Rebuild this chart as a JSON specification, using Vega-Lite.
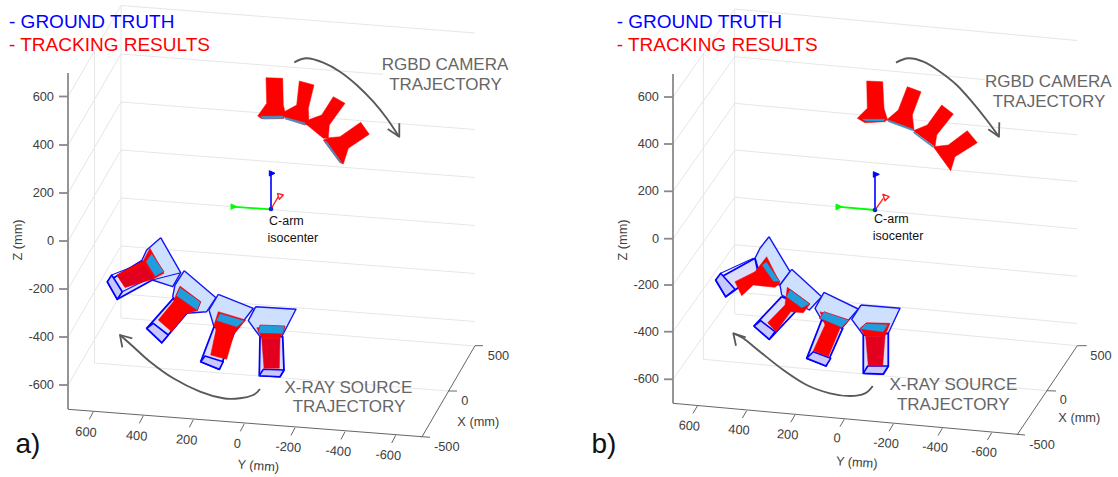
{"$schema":"https://vega.github.io/schema/vega-lite/v6.json","width":1118,"height":477,"padding":0,"autosize":{"type":"fit","contains":"padding"},"background":"white","config":{"view":{"stroke":null}},
"datasets":{"shapes":[
{"id":"g1","part":"grid","i":0,"h":121,"v":5.5},{"id":"g1","part":"grid","i":1,"h":475,"v":33},
{"id":"g2","part":"grid","i":0,"h":121,"v":54},{"id":"g2","part":"grid","i":1,"h":383,"v":74.3},
{"id":"g3","part":"grid","i":0,"h":121,"v":102},{"id":"g3","part":"grid","i":1,"h":475,"v":129.5},
{"id":"g4","part":"grid","i":0,"h":121,"v":150},{"id":"g4","part":"grid","i":1,"h":475,"v":177.5},
{"id":"g5","part":"grid","i":0,"h":121,"v":198},{"id":"g5","part":"grid","i":1,"h":475,"v":225.5},
{"id":"g6","part":"grid","i":0,"h":121,"v":246},{"id":"g6","part":"grid","i":1,"h":475,"v":273.5},
{"id":"g7","part":"grid","i":0,"h":121,"v":294},{"id":"g7","part":"grid","i":1,"h":475,"v":321.5},
{"id":"g8","part":"grid","i":0,"h":121,"v":318},{"id":"g8","part":"grid","i":1,"h":475,"v":346},
{"id":"g9","part":"grid","i":0,"h":121,"v":5.5},{"id":"g9","part":"grid","i":1,"h":121,"v":318},
{"id":"g10","part":"grid","i":0,"h":94.5,"v":51},{"id":"g10","part":"grid","i":1,"h":94.5,"v":363},
{"id":"g11","part":"grid","i":0,"h":94.5,"v":363},{"id":"g11","part":"grid","i":1,"h":448,"v":391},
{"id":"g12","part":"grid","i":0,"h":68,"v":96.5},{"id":"g12","part":"grid","i":1,"h":121,"v":5.5},
{"id":"g13","part":"grid","i":0,"h":68,"v":145},{"id":"g13","part":"grid","i":1,"h":121,"v":54},
{"id":"g14","part":"grid","i":0,"h":68,"v":193},{"id":"g14","part":"grid","i":1,"h":121,"v":102},
{"id":"g15","part":"grid","i":0,"h":68,"v":241},{"id":"g15","part":"grid","i":1,"h":121,"v":150},
{"id":"g16","part":"grid","i":0,"h":68,"v":289},{"id":"g16","part":"grid","i":1,"h":121,"v":198},
{"id":"g17","part":"grid","i":0,"h":68,"v":337},{"id":"g17","part":"grid","i":1,"h":121,"v":246},
{"id":"g18","part":"grid","i":0,"h":68,"v":385},{"id":"g18","part":"grid","i":1,"h":121,"v":294},
{"id":"k1","part":"grid","i":0,"h":734.7,"v":9},{"id":"k1","part":"grid","i":1,"h":1077,"v":40.5},
{"id":"k2","part":"grid","i":0,"h":734.7,"v":56.7},{"id":"k2","part":"grid","i":1,"h":985,"v":79.7},
{"id":"k3","part":"grid","i":0,"h":734.7,"v":103.3},{"id":"k3","part":"grid","i":1,"h":1077,"v":134.8},
{"id":"k4","part":"grid","i":0,"h":734.7,"v":150},{"id":"k4","part":"grid","i":1,"h":1077,"v":181.5},
{"id":"k5","part":"grid","i":0,"h":734.7,"v":197.3},{"id":"k5","part":"grid","i":1,"h":1077,"v":228.8},
{"id":"k6","part":"grid","i":0,"h":734.7,"v":244.7},{"id":"k6","part":"grid","i":1,"h":1077,"v":276.2},
{"id":"k7","part":"grid","i":0,"h":734.7,"v":292},{"id":"k7","part":"grid","i":1,"h":1077,"v":323.5},
{"id":"k8","part":"grid","i":0,"h":734.7,"v":314},{"id":"k8","part":"grid","i":1,"h":1077.3,"v":345.7},
{"id":"k9","part":"grid","i":0,"h":734.7,"v":9},{"id":"k9","part":"grid","i":1,"h":734.7,"v":314},
{"id":"k10","part":"grid","i":0,"h":703.4,"v":53},{"id":"k10","part":"grid","i":1,"h":703.4,"v":359.3},
{"id":"k11","part":"grid","i":0,"h":703.4,"v":359.3},{"id":"k11","part":"grid","i":1,"h":1046.7,"v":390.7},
{"id":"k12","part":"grid","i":0,"h":673,"v":97},{"id":"k12","part":"grid","i":1,"h":734.7,"v":9},
{"id":"k13","part":"grid","i":0,"h":673,"v":144},{"id":"k13","part":"grid","i":1,"h":734.7,"v":56.7},
{"id":"k14","part":"grid","i":0,"h":673,"v":191.3},{"id":"k14","part":"grid","i":1,"h":734.7,"v":103.3},
{"id":"k15","part":"grid","i":0,"h":673,"v":238.7},{"id":"k15","part":"grid","i":1,"h":734.7,"v":150},
{"id":"k16","part":"grid","i":0,"h":673,"v":285},{"id":"k16","part":"grid","i":1,"h":734.7,"v":197.3},
{"id":"k17","part":"grid","i":0,"h":673,"v":331.7},{"id":"k17","part":"grid","i":1,"h":734.7,"v":244.7},
{"id":"k18","part":"grid","i":0,"h":673,"v":379.3},{"id":"k18","part":"grid","i":1,"h":734.7,"v":292},

{"id":"az","part":"zaxis","i":0,"h":68,"v":73},{"id":"az","part":"zaxis","i":1,"h":68,"v":409},
{"id":"at1","part":"zaxis","i":0,"h":59,"v":96.5},{"id":"at1","part":"zaxis","i":1,"h":68,"v":96.5},
{"id":"at2","part":"zaxis","i":0,"h":59,"v":145},{"id":"at2","part":"zaxis","i":1,"h":68,"v":145},
{"id":"at3","part":"zaxis","i":0,"h":59,"v":193},{"id":"at3","part":"zaxis","i":1,"h":68,"v":193},
{"id":"at4","part":"zaxis","i":0,"h":59,"v":241},{"id":"at4","part":"zaxis","i":1,"h":68,"v":241},
{"id":"at5","part":"zaxis","i":0,"h":59,"v":289},{"id":"at5","part":"zaxis","i":1,"h":68,"v":289},
{"id":"at6","part":"zaxis","i":0,"h":59,"v":337},{"id":"at6","part":"zaxis","i":1,"h":68,"v":337},
{"id":"at7","part":"zaxis","i":0,"h":59,"v":385},{"id":"at7","part":"zaxis","i":1,"h":68,"v":385},
{"id":"ay","part":"axis","i":0,"h":68,"v":409.3},{"id":"ay","part":"axis","i":1,"h":430,"v":437.3},
{"id":"ax","part":"axis","i":0,"h":421.7,"v":437.3},{"id":"ax","part":"axis","i":1,"h":475,"v":345.7},{"id":"ax","part":"axis","i":2,"h":483,"v":345.7},
{"id":"ax0","part":"axis","i":0,"h":448,"v":391},{"id":"ax0","part":"axis","i":1,"h":457,"v":391},
{"id":"ayt1","part":"axis","i":0,"h":93.3,"v":411.7},{"id":"ayt1","part":"axis","i":1,"h":89.3,"v":419.4},
{"id":"ayt2","part":"axis","i":0,"h":143.3,"v":415.7},{"id":"ayt2","part":"axis","i":1,"h":139.3,"v":423.4},
{"id":"ayt3","part":"axis","i":0,"h":193.3,"v":419.7},{"id":"ayt3","part":"axis","i":1,"h":189.3,"v":427.4},
{"id":"ayt4","part":"axis","i":0,"h":244.3,"v":423.7},{"id":"ayt4","part":"axis","i":1,"h":240.3,"v":431.4},
{"id":"ayt5","part":"axis","i":0,"h":295,"v":427.7},{"id":"ayt5","part":"axis","i":1,"h":291,"v":435.4},
{"id":"ayt6","part":"axis","i":0,"h":345,"v":431.7},{"id":"ayt6","part":"axis","i":1,"h":341,"v":439.4},
{"id":"ayt7","part":"axis","i":0,"h":395.7,"v":435.3},{"id":"ayt7","part":"axis","i":1,"h":391.7,"v":443},

{"id":"bz","part":"zaxis","i":0,"h":673,"v":74},{"id":"bz","part":"zaxis","i":1,"h":673,"v":403.3},
{"id":"bt1","part":"zaxis","i":0,"h":664,"v":97},{"id":"bt1","part":"zaxis","i":1,"h":673,"v":97},
{"id":"bt2","part":"zaxis","i":0,"h":664,"v":144},{"id":"bt2","part":"zaxis","i":1,"h":673,"v":144},
{"id":"bt3","part":"zaxis","i":0,"h":664,"v":191.3},{"id":"bt3","part":"zaxis","i":1,"h":673,"v":191.3},
{"id":"bt4","part":"zaxis","i":0,"h":664,"v":238.7},{"id":"bt4","part":"zaxis","i":1,"h":673,"v":238.7},
{"id":"bt5","part":"zaxis","i":0,"h":664,"v":285},{"id":"bt5","part":"zaxis","i":1,"h":673,"v":285},
{"id":"bt6","part":"zaxis","i":0,"h":664,"v":331.7},{"id":"bt6","part":"zaxis","i":1,"h":673,"v":331.7},
{"id":"bt7","part":"zaxis","i":0,"h":664,"v":379.3},{"id":"bt7","part":"zaxis","i":1,"h":673,"v":379.3},
{"id":"by","part":"axis","i":0,"h":673,"v":403.3},{"id":"by","part":"axis","i":1,"h":1025,"v":435},
{"id":"bx","part":"axis","i":0,"h":1017,"v":435},{"id":"bx","part":"axis","i":1,"h":1077.3,"v":345.7},{"id":"bx","part":"axis","i":2,"h":1086.7,"v":345.7},
{"id":"bx0","part":"axis","i":0,"h":1046.7,"v":390.7},{"id":"bx0","part":"axis","i":1,"h":1056,"v":391},
{"id":"byt1","part":"axis","i":0,"h":697.3,"v":406},{"id":"byt1","part":"axis","i":1,"h":693,"v":413.3},
{"id":"byt2","part":"axis","i":0,"h":746.7,"v":410.7},{"id":"byt2","part":"axis","i":1,"h":742.4,"v":418},
{"id":"byt3","part":"axis","i":0,"h":795,"v":415},{"id":"byt3","part":"axis","i":1,"h":790.7,"v":422.3},
{"id":"byt4","part":"axis","i":0,"h":844.3,"v":419.3},{"id":"byt4","part":"axis","i":1,"h":840,"v":426.6},
{"id":"byt5","part":"axis","i":0,"h":893.3,"v":424},{"id":"byt5","part":"axis","i":1,"h":889,"v":431.3},
{"id":"byt6","part":"axis","i":0,"h":942.3,"v":428.3},{"id":"byt6","part":"axis","i":1,"h":938,"v":435.6},
{"id":"byt7","part":"axis","i":0,"h":991.7,"v":432.7},{"id":"byt7","part":"axis","i":1,"h":987.4,"v":440},

{"id":"arr1h","part":"arrowhead","i":0,"h":387.7,"v":129},{"id":"arr1h","part":"arrowhead","i":1,"h":399.3,"v":136.7},{"id":"arr1h","part":"arrowhead","i":2,"h":399.3,"v":123.3},
{"id":"arr2h","part":"arrowhead","i":0,"h":122.3,"v":347.3},{"id":"arr2h","part":"arrowhead","i":1,"h":120,"v":335},{"id":"arr2h","part":"arrowhead","i":2,"h":132.3,"v":338.3},
{"id":"arr3h","part":"arrowhead","i":0,"h":988.3,"v":129.3},{"id":"arr3h","part":"arrowhead","i":1,"h":999,"v":136.7},{"id":"arr3h","part":"arrowhead","i":2,"h":999.3,"v":122.3},
{"id":"arr4h","part":"arrowhead","i":0,"h":736,"v":345.7},{"id":"arr4h","part":"arrowhead","i":1,"h":733.3,"v":333.3},{"id":"arr4h","part":"arrowhead","i":2,"h":745.7,"v":337.3},

{"id":"a1f","part":"funnel","i":0,"h":160.7,"v":237.7},{"id":"a1f","part":"funnel","i":1,"h":180.7,"v":272.7},{"id":"a1f","part":"funnel","i":2,"h":172.7,"v":286.7},{"id":"a1f","part":"funnel","i":3,"h":152.3,"v":280},{"id":"a1f","part":"funnel","i":4,"h":141.7,"v":260.7},{"id":"a1f","part":"funnel","i":5,"h":146.7,"v":250},{"id":"a1f","part":"funnel","i":6,"h":160.7,"v":237.7},
{"id":"a1fl","part":"edge","i":0,"h":152.3,"v":280},{"id":"a1fl","part":"edge","i":1,"h":180.7,"v":272.7},
{"id":"a1b","part":"box","i":0,"h":141.7,"v":260.7},{"id":"a1b","part":"box","i":1,"h":152.3,"v":280},{"id":"a1b","part":"box","i":2,"h":117.3,"v":299.3},{"id":"a1b","part":"box","i":3,"h":107.3,"v":281.7},{"id":"a1b","part":"box","i":4,"h":141.7,"v":260.7},
{"id":"a1e","part":"end","i":0,"h":107.3,"v":281.7},{"id":"a1e","part":"end","i":1,"h":111.7,"v":275},{"id":"a1e","part":"end","i":2,"h":122.3,"v":291.7},{"id":"a1e","part":"end","i":3,"h":117.3,"v":299.3},{"id":"a1e","part":"end","i":4,"h":107.3,"v":281.7},
{"id":"a1l1","part":"edge","i":0,"h":111.7,"v":275},{"id":"a1l1","part":"edge","i":1,"h":145,"v":261.7},
{"id":"a1l2","part":"edge","i":0,"h":122.3,"v":291.7},{"id":"a1l2","part":"edge","i":1,"h":152.3,"v":276.7},
{"id":"a1r","part":"red","i":0,"h":116.7,"v":275},{"id":"a1r","part":"red","i":1,"h":143.3,"v":260.7},{"id":"a1r","part":"red","i":2,"h":150,"v":248.3},{"id":"a1r","part":"red","i":3,"h":164,"v":273.3},{"id":"a1r","part":"red","i":4,"h":153.3,"v":279},{"id":"a1r","part":"red","i":5,"h":125,"v":287.3},{"id":"a1r","part":"red","i":6,"h":116.7,"v":275},
{"id":"a1d","part":"darkred","i":0,"h":118.3,"v":276.7},{"id":"a1d","part":"darkred","i":1,"h":145,"v":265},{"id":"a1d","part":"darkred","i":2,"h":153.3,"v":278.3},{"id":"a1d","part":"darkred","i":3,"h":125,"v":287.3},{"id":"a1d","part":"darkred","i":4,"h":118.3,"v":276.7},
{"id":"a1c","part":"cyan","i":0,"h":151.7,"v":253.3},{"id":"a1c","part":"cyan","i":1,"h":164,"v":271.7},{"id":"a1c","part":"cyan","i":2,"h":155,"v":276.7},{"id":"a1c","part":"cyan","i":3,"h":145.7,"v":261.7},{"id":"a1c","part":"cyan","i":4,"h":151.7,"v":253.3},

{"id":"a2f","part":"funnel","i":0,"h":184.3,"v":270.7},{"id":"a2f","part":"funnel","i":1,"h":216,"v":297.7},{"id":"a2f","part":"funnel","i":2,"h":206.7,"v":311.7},{"id":"a2f","part":"funnel","i":3,"h":186.7,"v":313.3},{"id":"a2f","part":"funnel","i":4,"h":172.7,"v":296.7},{"id":"a2f","part":"funnel","i":5,"h":175,"v":285},{"id":"a2f","part":"funnel","i":6,"h":184.3,"v":270.7},
{"id":"a2b","part":"box","i":0,"h":173.3,"v":298.3},{"id":"a2b","part":"box","i":1,"h":186.7,"v":313.3},{"id":"a2b","part":"box","i":2,"h":161.7,"v":342.7},{"id":"a2b","part":"box","i":3,"h":146.7,"v":328.3},{"id":"a2b","part":"box","i":4,"h":173.3,"v":298.3},
{"id":"a2e","part":"end","i":0,"h":146.7,"v":328.3},{"id":"a2e","part":"end","i":1,"h":153.3,"v":323.3},{"id":"a2e","part":"end","i":2,"h":168.3,"v":335},{"id":"a2e","part":"end","i":3,"h":161.7,"v":342.7},{"id":"a2e","part":"end","i":4,"h":146.7,"v":328.3},
{"id":"a2r","part":"red","i":0,"h":180,"v":286},{"id":"a2r","part":"red","i":1,"h":200.7,"v":301.7},{"id":"a2r","part":"red","i":2,"h":197.3,"v":310.7},{"id":"a2r","part":"red","i":3,"h":186.7,"v":313.3},{"id":"a2r","part":"red","i":4,"h":171.7,"v":331.7},{"id":"a2r","part":"red","i":5,"h":158.3,"v":320},{"id":"a2r","part":"red","i":6,"h":173.3,"v":301.7},{"id":"a2r","part":"red","i":7,"h":176,"v":295},{"id":"a2r","part":"red","i":8,"h":180,"v":286},
{"id":"a2c","part":"cyan","i":0,"h":180,"v":287.3},{"id":"a2c","part":"cyan","i":1,"h":200.7,"v":301.7},{"id":"a2c","part":"cyan","i":2,"h":197.3,"v":310.7},{"id":"a2c","part":"cyan","i":3,"h":176,"v":295.7},{"id":"a2c","part":"cyan","i":4,"h":180,"v":287.3},

{"id":"a3f","part":"funnel","i":0,"h":218.3,"v":294.3},{"id":"a3f","part":"funnel","i":1,"h":253.3,"v":308.3},{"id":"a3f","part":"funnel","i":2,"h":234,"v":333.3},{"id":"a3f","part":"funnel","i":3,"h":214,"v":326.7},{"id":"a3f","part":"funnel","i":4,"h":209,"v":310},{"id":"a3f","part":"funnel","i":5,"h":218.3,"v":294.3},
{"id":"a3b","part":"box","i":0,"h":214,"v":326.7},{"id":"a3b","part":"box","i":1,"h":234,"v":333.3},{"id":"a3b","part":"box","i":2,"h":219.3,"v":369.3},{"id":"a3b","part":"box","i":3,"h":200.7,"v":361.7},{"id":"a3b","part":"box","i":4,"h":214,"v":326.7},
{"id":"a3e","part":"end","i":0,"h":200.7,"v":361.7},{"id":"a3e","part":"end","i":1,"h":205,"v":356},{"id":"a3e","part":"end","i":2,"h":223.3,"v":361.7},{"id":"a3e","part":"end","i":3,"h":219.3,"v":369.3},{"id":"a3e","part":"end","i":4,"h":200.7,"v":361.7},
{"id":"a3r","part":"red","i":0,"h":218.3,"v":311.7},{"id":"a3r","part":"red","i":1,"h":245.7,"v":320},{"id":"a3r","part":"red","i":2,"h":234,"v":334},{"id":"a3r","part":"red","i":3,"h":226.7,"v":359.3},{"id":"a3r","part":"red","i":4,"h":210.7,"v":355},{"id":"a3r","part":"red","i":5,"h":216,"v":330},{"id":"a3r","part":"red","i":6,"h":214,"v":325},{"id":"a3r","part":"red","i":7,"h":218.3,"v":311.7},
{"id":"a3c","part":"cyan","i":0,"h":220,"v":313.3},{"id":"a3c","part":"cyan","i":1,"h":245,"v":320.7},{"id":"a3c","part":"cyan","i":2,"h":236.7,"v":327.3},{"id":"a3c","part":"cyan","i":3,"h":216,"v":320.7},{"id":"a3c","part":"cyan","i":4,"h":220,"v":313.3},

{"id":"a4f","part":"funnel","i":0,"h":255.7,"v":306.7},{"id":"a4f","part":"funnel","i":1,"h":296,"v":309.3},{"id":"a4f","part":"funnel","i":2,"h":281.7,"v":336.7},{"id":"a4f","part":"funnel","i":3,"h":260,"v":336.7},{"id":"a4f","part":"funnel","i":4,"h":248.3,"v":320.7},{"id":"a4f","part":"funnel","i":5,"h":255.7,"v":306.7},
{"id":"a4b","part":"box","i":0,"h":260,"v":336.7},{"id":"a4b","part":"box","i":1,"h":282.7,"v":336.7},{"id":"a4b","part":"box","i":2,"h":284,"v":370},{"id":"a4b","part":"box","i":3,"h":280,"v":376.7},{"id":"a4b","part":"box","i":4,"h":259.3,"v":375.7},{"id":"a4b","part":"box","i":5,"h":260,"v":336.7},
{"id":"a4e","part":"end","i":0,"h":259.3,"v":375.7},{"id":"a4e","part":"end","i":1,"h":263.3,"v":369.3},{"id":"a4e","part":"end","i":2,"h":284,"v":370},{"id":"a4e","part":"end","i":3,"h":280,"v":376.7},{"id":"a4e","part":"end","i":4,"h":259.3,"v":375.7},
{"id":"a4r","part":"red","i":0,"h":256.7,"v":327.7},{"id":"a4r","part":"red","i":1,"h":285,"v":326.7},{"id":"a4r","part":"red","i":2,"h":280,"v":338.3},{"id":"a4r","part":"red","i":3,"h":261.7,"v":338.3},{"id":"a4r","part":"red","i":4,"h":256.7,"v":327.7},
{"id":"a4d","part":"darkred","i":0,"h":261.7,"v":338.3},{"id":"a4d","part":"darkred","i":1,"h":280,"v":338.3},{"id":"a4d","part":"darkred","i":2,"h":279.3,"v":368.3},{"id":"a4d","part":"darkred","i":3,"h":264,"v":368.3},{"id":"a4d","part":"darkred","i":4,"h":261.7,"v":338.3},
{"id":"a4c","part":"cyan","i":0,"h":260,"v":325},{"id":"a4c","part":"cyan","i":1,"h":285,"v":326},{"id":"a4c","part":"cyan","i":2,"h":282.7,"v":334},{"id":"a4c","part":"cyan","i":3,"h":257.7,"v":333.3},{"id":"a4c","part":"cyan","i":4,"h":260,"v":325},

{"id":"b1f","part":"funnel","i":0,"h":769,"v":236.7},{"id":"b1f","part":"funnel","i":1,"h":790,"v":271.7},{"id":"b1f","part":"funnel","i":2,"h":780,"v":285},{"id":"b1f","part":"funnel","i":3,"h":761.7,"v":280},{"id":"b1f","part":"funnel","i":4,"h":755,"v":258.3},{"id":"b1f","part":"funnel","i":5,"h":760,"v":248.3},{"id":"b1f","part":"funnel","i":6,"h":769,"v":236.7},
{"id":"b1b","part":"box","i":0,"h":755,"v":258.3},{"id":"b1b","part":"box","i":1,"h":758.3,"v":273.3},{"id":"b1b","part":"box","i":2,"h":725.7,"v":296.7},{"id":"b1b","part":"box","i":3,"h":715.7,"v":280},{"id":"b1b","part":"box","i":4,"h":755,"v":258.3},
{"id":"b1e","part":"end","i":0,"h":715.7,"v":280},{"id":"b1e","part":"end","i":1,"h":720.7,"v":273.3},{"id":"b1e","part":"end","i":2,"h":735,"v":289.3},{"id":"b1e","part":"end","i":3,"h":725.7,"v":296.7},{"id":"b1e","part":"end","i":4,"h":715.7,"v":280},
{"id":"b1l1","part":"edge","i":0,"h":720.7,"v":273.3},{"id":"b1l1","part":"edge","i":1,"h":753.3,"v":258.3},
{"id":"b1r","part":"red","i":0,"h":735,"v":281.7},{"id":"b1r","part":"red","i":1,"h":755,"v":271.7},{"id":"b1r","part":"red","i":2,"h":766.7,"v":256.7},{"id":"b1r","part":"red","i":3,"h":780,"v":283.3},{"id":"b1r","part":"red","i":4,"h":775,"v":287.3},{"id":"b1r","part":"red","i":5,"h":753.3,"v":285},{"id":"b1r","part":"red","i":6,"h":741.7,"v":295.7},{"id":"b1r","part":"red","i":7,"h":735,"v":281.7},
{"id":"b1c","part":"cyan","i":0,"h":766.7,"v":261.7},{"id":"b1c","part":"cyan","i":1,"h":780,"v":281.7},{"id":"b1c","part":"cyan","i":2,"h":773.3,"v":281.7},{"id":"b1c","part":"cyan","i":3,"h":761.7,"v":265},{"id":"b1c","part":"cyan","i":4,"h":766.7,"v":261.7},

{"id":"b2f","part":"funnel","i":0,"h":791.7,"v":269.3},{"id":"b2f","part":"funnel","i":1,"h":821.7,"v":296.7},{"id":"b2f","part":"funnel","i":2,"h":809.3,"v":310},{"id":"b2f","part":"funnel","i":3,"h":781.7,"v":295},{"id":"b2f","part":"funnel","i":4,"h":780,"v":285},{"id":"b2f","part":"funnel","i":5,"h":791.7,"v":269.3},
{"id":"b2b","part":"box","i":0,"h":781.7,"v":296.7},{"id":"b2b","part":"box","i":1,"h":801.7,"v":305},{"id":"b2b","part":"box","i":2,"h":769.3,"v":339.3},{"id":"b2b","part":"box","i":3,"h":754,"v":326},{"id":"b2b","part":"box","i":4,"h":781.7,"v":296.7},
{"id":"b2e","part":"end","i":0,"h":754,"v":326},{"id":"b2e","part":"end","i":1,"h":760.7,"v":320.7},{"id":"b2e","part":"end","i":2,"h":775,"v":331.7},{"id":"b2e","part":"end","i":3,"h":769.3,"v":339.3},{"id":"b2e","part":"end","i":4,"h":754,"v":326},
{"id":"b2r","part":"red","i":0,"h":787.3,"v":287.3},{"id":"b2r","part":"red","i":1,"h":810,"v":304},{"id":"b2r","part":"red","i":2,"h":803.3,"v":312.7},{"id":"b2r","part":"red","i":3,"h":790.7,"v":311.7},{"id":"b2r","part":"red","i":4,"h":776,"v":331.7},{"id":"b2r","part":"red","i":5,"h":767.7,"v":322.7},{"id":"b2r","part":"red","i":6,"h":785,"v":305},{"id":"b2r","part":"red","i":7,"h":787.3,"v":287.3},
{"id":"b2c","part":"cyan","i":0,"h":790,"v":289.3},{"id":"b2c","part":"cyan","i":1,"h":810,"v":304},{"id":"b2c","part":"cyan","i":2,"h":801.7,"v":308.3},{"id":"b2c","part":"cyan","i":3,"h":786,"v":296.7},{"id":"b2c","part":"cyan","i":4,"h":790,"v":289.3},

{"id":"b3f","part":"funnel","i":0,"h":824,"v":292.3},{"id":"b3f","part":"funnel","i":1,"h":858.3,"v":309},{"id":"b3f","part":"funnel","i":2,"h":841.7,"v":328.3},{"id":"b3f","part":"funnel","i":3,"h":821.7,"v":320},{"id":"b3f","part":"funnel","i":4,"h":815,"v":308.3},{"id":"b3f","part":"funnel","i":5,"h":824,"v":292.3},
{"id":"b3b","part":"box","i":0,"h":821.7,"v":320},{"id":"b3b","part":"box","i":1,"h":842.7,"v":328.3},{"id":"b3b","part":"box","i":2,"h":826,"v":366},{"id":"b3b","part":"box","i":3,"h":806.7,"v":358.3},{"id":"b3b","part":"box","i":4,"h":821.7,"v":320},
{"id":"b3e","part":"end","i":0,"h":806.7,"v":358.3},{"id":"b3e","part":"end","i":1,"h":813.3,"v":351.7},{"id":"b3e","part":"end","i":2,"h":830.7,"v":358.3},{"id":"b3e","part":"end","i":3,"h":826,"v":366},{"id":"b3e","part":"end","i":4,"h":806.7,"v":358.3},
{"id":"b3r","part":"red","i":0,"h":820,"v":311.7},{"id":"b3r","part":"red","i":1,"h":848.3,"v":320},{"id":"b3r","part":"red","i":2,"h":840,"v":328.3},{"id":"b3r","part":"red","i":3,"h":828.3,"v":356.7},{"id":"b3r","part":"red","i":4,"h":813.3,"v":350.7},{"id":"b3r","part":"red","i":5,"h":825,"v":325},{"id":"b3r","part":"red","i":6,"h":820,"v":311.7},
{"id":"b3c","part":"cyan","i":0,"h":824,"v":311.7},{"id":"b3c","part":"cyan","i":1,"h":849,"v":320},{"id":"b3c","part":"cyan","i":2,"h":841.7,"v":327.7},{"id":"b3c","part":"cyan","i":3,"h":819.3,"v":318.3},{"id":"b3c","part":"cyan","i":4,"h":824,"v":311.7},

{"id":"b4f","part":"funnel","i":0,"h":861,"v":305},{"id":"b4f","part":"funnel","i":1,"h":900,"v":308.3},{"id":"b4f","part":"funnel","i":2,"h":888.3,"v":333.3},{"id":"b4f","part":"funnel","i":3,"h":863.3,"v":335},{"id":"b4f","part":"funnel","i":4,"h":851.7,"v":319.3},{"id":"b4f","part":"funnel","i":5,"h":861,"v":305},
{"id":"b4b","part":"box","i":0,"h":863.3,"v":335},{"id":"b4b","part":"box","i":1,"h":888.3,"v":333.3},{"id":"b4b","part":"box","i":2,"h":888.3,"v":366},{"id":"b4b","part":"box","i":3,"h":883.3,"v":374},{"id":"b4b","part":"box","i":4,"h":863.3,"v":373.3},{"id":"b4b","part":"box","i":5,"h":863.3,"v":335},
{"id":"b4e","part":"end","i":0,"h":863.3,"v":373.3},{"id":"b4e","part":"end","i":1,"h":867.7,"v":366},{"id":"b4e","part":"end","i":2,"h":888.3,"v":366},{"id":"b4e","part":"end","i":3,"h":883.3,"v":374},{"id":"b4e","part":"end","i":4,"h":863.3,"v":373.3},
{"id":"b4r","part":"red","i":0,"h":860,"v":328.3},{"id":"b4r","part":"red","i":1,"h":866.7,"v":322.7},{"id":"b4r","part":"red","i":2,"h":890,"v":323.3},{"id":"b4r","part":"red","i":3,"h":885,"v":336},{"id":"b4r","part":"red","i":4,"h":865.7,"v":336.7},{"id":"b4r","part":"red","i":5,"h":860,"v":328.3},
{"id":"b4d","part":"darkred","i":0,"h":865.7,"v":336.7},{"id":"b4d","part":"darkred","i":1,"h":885,"v":336},{"id":"b4d","part":"darkred","i":2,"h":882.7,"v":366},{"id":"b4d","part":"darkred","i":3,"h":868.3,"v":366},{"id":"b4d","part":"darkred","i":4,"h":865.7,"v":336.7},
{"id":"b4c","part":"cyan","i":0,"h":865.7,"v":323.3},{"id":"b4c","part":"cyan","i":1,"h":888.3,"v":324.3},{"id":"b4c","part":"cyan","i":2,"h":883.3,"v":332.3},{"id":"b4c","part":"cyan","i":3,"h":860,"v":329.3},{"id":"b4c","part":"cyan","i":4,"h":865.7,"v":323.3},

{"id":"c1","part":"red","i":0,"h":266,"v":77.7},{"id":"c1","part":"red","i":1,"h":282.7,"v":78.3},{"id":"c1","part":"red","i":2,"h":283.3,"v":105},{"id":"c1","part":"red","i":3,"h":285.7,"v":115},{"id":"c1","part":"red","i":4,"h":283.3,"v":118.7},{"id":"c1","part":"red","i":5,"h":261.7,"v":118.7},{"id":"c1","part":"red","i":6,"h":257.7,"v":116},{"id":"c1","part":"red","i":7,"h":266.7,"v":103.3},{"id":"c1","part":"red","i":8,"h":266,"v":77.7},
{"id":"c1s","part":"strip","i":0,"h":260.7,"v":116.3},{"id":"c1s","part":"strip","i":1,"h":283.3,"v":116},{"id":"c1s","part":"strip","i":2,"h":282.7,"v":118.3},{"id":"c1s","part":"strip","i":3,"h":263.3,"v":119},{"id":"c1s","part":"strip","i":4,"h":260.7,"v":116.3},
{"id":"c2","part":"red","i":0,"h":299.3,"v":81},{"id":"c2","part":"red","i":1,"h":314,"v":85},{"id":"c2","part":"red","i":2,"h":308.3,"v":108.3},{"id":"c2","part":"red","i":3,"h":309,"v":123.3},{"id":"c2","part":"red","i":4,"h":305,"v":125},{"id":"c2","part":"red","i":5,"h":285,"v":118.3},{"id":"c2","part":"red","i":6,"h":284.3,"v":111.7},{"id":"c2","part":"red","i":7,"h":296.7,"v":105},{"id":"c2","part":"red","i":8,"h":299.3,"v":81},
{"id":"c2s","part":"strip","i":0,"h":285,"v":117.3},{"id":"c2s","part":"strip","i":1,"h":306.7,"v":123.3},{"id":"c2s","part":"strip","i":2,"h":305.7,"v":125},{"id":"c2s","part":"strip","i":3,"h":285,"v":119},{"id":"c2s","part":"strip","i":4,"h":285,"v":117.3},
{"id":"c3","part":"red","i":0,"h":333.3,"v":96.7},{"id":"c3","part":"red","i":1,"h":345,"v":103.3},{"id":"c3","part":"red","i":2,"h":329.3,"v":125},{"id":"c3","part":"red","i":3,"h":328.3,"v":138.3},{"id":"c3","part":"red","i":4,"h":323.3,"v":138.3},{"id":"c3","part":"red","i":5,"h":305,"v":123.3},{"id":"c3","part":"red","i":6,"h":310,"v":119.3},{"id":"c3","part":"red","i":7,"h":321.7,"v":115},{"id":"c3","part":"red","i":8,"h":333.3,"v":96.7},
{"id":"c4","part":"red","i":0,"h":360.7,"v":122.3},{"id":"c4","part":"red","i":1,"h":369.3,"v":134.3},{"id":"c4","part":"red","i":2,"h":348.3,"v":148.3},{"id":"c4","part":"red","i":3,"h":343.3,"v":164},{"id":"c4","part":"red","i":4,"h":340,"v":162.7},{"id":"c4","part":"red","i":5,"h":323.3,"v":140},{"id":"c4","part":"red","i":6,"h":329.3,"v":137.7},{"id":"c4","part":"red","i":7,"h":340,"v":136.7},{"id":"c4","part":"red","i":8,"h":360.7,"v":122.3},
{"id":"c4s","part":"strip","i":0,"h":324,"v":141},{"id":"c4s","part":"strip","i":1,"h":326.7,"v":141.7},{"id":"c4s","part":"strip","i":2,"h":341.7,"v":162.7},{"id":"c4s","part":"strip","i":3,"h":339.3,"v":161.7},{"id":"c4s","part":"strip","i":4,"h":324,"v":141},

{"id":"d1","part":"red","i":0,"h":866.7,"v":81},{"id":"d1","part":"red","i":1,"h":882.7,"v":81.7},{"id":"d1","part":"red","i":2,"h":884,"v":108.3},{"id":"d1","part":"red","i":3,"h":887.3,"v":119.3},{"id":"d1","part":"red","i":4,"h":885,"v":121.7},{"id":"d1","part":"red","i":5,"h":865,"v":122.7},{"id":"d1","part":"red","i":6,"h":857.3,"v":118.3},{"id":"d1","part":"red","i":7,"h":867.3,"v":108.3},{"id":"d1","part":"red","i":8,"h":866.7,"v":81},
{"id":"d1s","part":"cyan2","i":0,"h":862.7,"v":119.3},{"id":"d1s","part":"cyan2","i":1,"h":885,"v":119.3},{"id":"d1s","part":"cyan2","i":2,"h":883.3,"v":121},{"id":"d1s","part":"cyan2","i":3,"h":866,"v":121},{"id":"d1s","part":"cyan2","i":4,"h":862.7,"v":119.3},
{"id":"d2","part":"red","i":0,"h":907.3,"v":86.7},{"id":"d2","part":"red","i":1,"h":921,"v":91.7},{"id":"d2","part":"red","i":2,"h":912.3,"v":115},{"id":"d2","part":"red","i":3,"h":914,"v":130},{"id":"d2","part":"red","i":4,"h":886.7,"v":120},{"id":"d2","part":"red","i":5,"h":898.3,"v":110},{"id":"d2","part":"red","i":6,"h":907.3,"v":86.7},
{"id":"d2s","part":"strip","i":0,"h":888.3,"v":120},{"id":"d2s","part":"strip","i":1,"h":913.3,"v":129.3},{"id":"d2s","part":"strip","i":2,"h":912.7,"v":130.7},{"id":"d2s","part":"strip","i":3,"h":888.3,"v":121.7},{"id":"d2s","part":"strip","i":4,"h":888.3,"v":120},
{"id":"d3","part":"red","i":0,"h":941.7,"v":105},{"id":"d3","part":"red","i":1,"h":953.3,"v":114},{"id":"d3","part":"red","i":2,"h":936.7,"v":135},{"id":"d3","part":"red","i":3,"h":935,"v":146.7},{"id":"d3","part":"red","i":4,"h":913.3,"v":130.7},{"id":"d3","part":"red","i":5,"h":927.3,"v":125},{"id":"d3","part":"red","i":6,"h":941.7,"v":105},
{"id":"d3s","part":"strip","i":0,"h":914,"v":131.7},{"id":"d3s","part":"strip","i":1,"h":933.3,"v":146},{"id":"d3s","part":"strip","i":2,"h":932.7,"v":147.3},{"id":"d3s","part":"strip","i":3,"h":913.3,"v":132.7},{"id":"d3s","part":"strip","i":4,"h":914,"v":131.7},
{"id":"d4","part":"red","i":0,"h":967.3,"v":130.7},{"id":"d4","part":"red","i":1,"h":977.3,"v":142.7},{"id":"d4","part":"red","i":2,"h":955,"v":156.7},{"id":"d4","part":"red","i":3,"h":950.7,"v":170.7},{"id":"d4","part":"red","i":4,"h":933.3,"v":146.7},{"id":"d4","part":"red","i":5,"h":948.3,"v":145},{"id":"d4","part":"red","i":6,"h":967.3,"v":130.7},

{"id":"ib","part":"zline","i":0,"h":271,"v":209},{"id":"ib","part":"zline","i":1,"h":271,"v":171.7},
{"id":"ibf","part":"zflag","i":0,"h":269.3,"v":170.7},{"id":"ibf","part":"zflag","i":1,"h":275,"v":173.3},{"id":"ibf","part":"zflag","i":2,"h":269.3,"v":176},{"id":"ibf","part":"zflag","i":3,"h":269.3,"v":170.7},
{"id":"ig","part":"yline","i":0,"h":231.7,"v":206.7},{"id":"ig","part":"yline","i":1,"h":271.3,"v":209.3},
{"id":"igf","part":"yflag","i":0,"h":231,"v":204},{"id":"igf","part":"yflag","i":1,"h":236.7,"v":206.7},{"id":"igf","part":"yflag","i":2,"h":231,"v":209.3},{"id":"igf","part":"yflag","i":3,"h":231,"v":204},
{"id":"ir","part":"xline","i":0,"h":271,"v":209},{"id":"ir","part":"xline","i":1,"h":278.3,"v":196.7},
{"id":"irf","part":"xline","i":0,"h":277.3,"v":193.3},{"id":"irf","part":"xline","i":1,"h":283.3,"v":195},{"id":"irf","part":"xline","i":2,"h":279.3,"v":199.3},{"id":"irf","part":"xline","i":3,"h":277.3,"v":193.3},
{"id":"jb","part":"zline","i":0,"h":875,"v":210},{"id":"jb","part":"zline","i":1,"h":875,"v":173.3},
{"id":"jbf","part":"zflag","i":0,"h":873.3,"v":171.7},{"id":"jbf","part":"zflag","i":1,"h":879.3,"v":174.3},{"id":"jbf","part":"zflag","i":2,"h":873.3,"v":177.3},{"id":"jbf","part":"zflag","i":3,"h":873.3,"v":171.7},
{"id":"jg","part":"yline","i":0,"h":837.3,"v":206.7},{"id":"jg","part":"yline","i":1,"h":875,"v":210},
{"id":"jgf","part":"yflag","i":0,"h":836,"v":204},{"id":"jgf","part":"yflag","i":1,"h":841.7,"v":206.7},{"id":"jgf","part":"yflag","i":2,"h":836,"v":210},{"id":"jgf","part":"yflag","i":3,"h":836,"v":204},
{"id":"jr","part":"xline","i":0,"h":875,"v":210},{"id":"jr","part":"xline","i":1,"h":883.3,"v":198.3},
{"id":"jrf","part":"xline","i":0,"h":882.7,"v":194},{"id":"jrf","part":"xline","i":1,"h":889,"v":196.7},{"id":"jrf","part":"xline","i":2,"h":885,"v":200.7},{"id":"jrf","part":"xline","i":3,"h":882.7,"v":194}
],
"curves":[
{"id":"arr1","i":0,"h":294.3,"v":62.3},{"id":"arr1","i":1,"h":306.7,"v":58.3},{"id":"arr1","i":2,"h":323.3,"v":62.7},{"id":"arr1","i":3,"h":340,"v":71.7},{"id":"arr1","i":4,"h":356.7,"v":85},{"id":"arr1","i":5,"h":373.3,"v":101.7},{"id":"arr1","i":6,"h":386.7,"v":118.3},{"id":"arr1","i":7,"h":399,"v":136.7},
{"id":"arr2","i":0,"h":260,"v":389},{"id":"arr2","i":1,"h":253.3,"v":395},{"id":"arr2","i":2,"h":240,"v":398.3},{"id":"arr2","i":3,"h":223.3,"v":398.3},{"id":"arr2","i":4,"h":200,"v":391.7},{"id":"arr2","i":5,"h":173.3,"v":378.3},{"id":"arr2","i":6,"h":150,"v":361.7},{"id":"arr2","i":7,"h":133.3,"v":346.7},{"id":"arr2","i":8,"h":120,"v":335},
{"id":"arr3","i":0,"h":896,"v":62.7},{"id":"arr3","i":1,"h":908.3,"v":58.3},{"id":"arr3","i":2,"h":923.3,"v":61.7},{"id":"arr3","i":3,"h":940,"v":71.7},{"id":"arr3","i":4,"h":956.7,"v":85},{"id":"arr3","i":5,"h":973.3,"v":103.3},{"id":"arr3","i":6,"h":986.7,"v":120},{"id":"arr3","i":7,"h":999,"v":136.7},
{"id":"arr4","i":0,"h":872.7,"v":386},{"id":"arr4","i":1,"h":865,"v":393.3},{"id":"arr4","i":2,"h":850,"v":396},{"id":"arr4","i":3,"h":830,"v":393.3},{"id":"arr4","i":4,"h":806.7,"v":385},{"id":"arr4","i":5,"h":783.3,"v":370},{"id":"arr4","i":6,"h":760,"v":351.7},{"id":"arr4","i":7,"h":743.3,"v":338.3},{"id":"arr4","i":8,"h":733.3,"v":333.3}
],
"origins":[{"h":271,"v":209},{"h":875,"v":210}],
"labels":[
{"t":"- GROUND TRUTH","h":9,"v":22,"role":"truth","al":"left"},{"t":"- TRACKING RESULTS","h":9,"v":45,"role":"track","al":"left"},
{"t":"- GROUND TRUTH","h":616.7,"v":22,"role":"truth","al":"left"},{"t":"- TRACKING RESULTS","h":616.7,"v":45,"role":"track","al":"left"},
{"t":"C-arm","h":269,"v":220.7,"role":"iso","al":"left"},{"t":"isocenter","h":267.5,"v":237.5,"role":"iso","al":"left"},
{"t":"C-arm","h":874,"v":219.3,"role":"iso","al":"left"},{"t":"isocenter","h":872.7,"v":236,"role":"iso","al":"left"},
{"t":"600","h":54,"v":96.5,"role":"tick","al":"right"},{"t":"400","h":54,"v":145,"role":"tick","al":"right"},{"t":"200","h":54,"v":193,"role":"tick","al":"right"},{"t":"0","h":54,"v":241,"role":"tick","al":"right"},{"t":"-200","h":54,"v":289,"role":"tick","al":"right"},{"t":"-400","h":54,"v":337,"role":"tick","al":"right"},{"t":"-600","h":54,"v":385,"role":"tick","al":"right"},
{"t":"600","h":659,"v":97,"role":"tick","al":"right"},{"t":"400","h":659,"v":144,"role":"tick","al":"right"},{"t":"200","h":659,"v":191.3,"role":"tick","al":"right"},{"t":"0","h":659,"v":238.7,"role":"tick","al":"right"},{"t":"-200","h":659,"v":285,"role":"tick","al":"right"},{"t":"-400","h":659,"v":331.7,"role":"tick","al":"right"},{"t":"-600","h":659,"v":379.3,"role":"tick","al":"right"},
{"t":"RGBD CAMERA","h":445,"v":65,"role":"note","al":"center"},{"t":"TRAJECTORY","h":445.5,"v":85,"role":"note","al":"center"},
{"t":"X-RAY SOURCE","h":348.3,"v":387.7,"role":"note","al":"center"},{"t":"TRAJECTORY","h":349,"v":407,"role":"note","al":"center"},
{"t":"RGBD CAMERA","h":1048.3,"v":82.3,"role":"note","al":"center"},{"t":"TRAJECTORY","h":1049,"v":102.3,"role":"note","al":"center"},
{"t":"X-RAY SOURCE","h":953.3,"v":385,"role":"note","al":"center"},{"t":"TRAJECTORY","h":953.3,"v":405,"role":"note","al":"center"},
{"t":"a)","h":28,"v":445,"role":"panel","al":"center"},{"t":"b)","h":604,"v":445,"role":"panel","al":"center"},
{"t":"Z (mm)","h":18,"v":240,"role":"ztitle","al":"center"},{"t":"Z (mm)","h":623,"v":240,"role":"ztitle","al":"center"},
{"t":"600","h":86,"v":432.3,"role":"ylab","al":"center"},{"t":"400","h":136.7,"v":436,"role":"ylab","al":"center"},{"t":"200","h":186.7,"v":440,"role":"ylab","al":"center"},{"t":"0","h":237.3,"v":443.7,"role":"ylab","al":"center"},{"t":"-200","h":288.3,"v":447.3,"role":"ylab","al":"center"},{"t":"-400","h":338.3,"v":451.3,"role":"ylab","al":"center"},{"t":"-600","h":388.3,"v":455.3,"role":"ylab","al":"center"},{"t":"Y (mm)","h":258.3,"v":466,"role":"ylab","al":"center"},
{"t":"600","h":689.3,"v":426,"role":"ylab","al":"center"},{"t":"400","h":739,"v":430,"role":"ylab","al":"center"},{"t":"200","h":787.7,"v":434.7,"role":"ylab","al":"center"},{"t":"0","h":837,"v":438.3,"role":"ylab","al":"center"},{"t":"-200","h":886,"v":443.3,"role":"ylab","al":"center"},{"t":"-400","h":935,"v":447.3,"role":"ylab","al":"center"},{"t":"-600","h":984,"v":452,"role":"ylab","al":"center"},{"t":"Y (mm)","h":856.7,"v":462.7,"role":"ylab","al":"center"},
{"t":"500","h":498.5,"v":355.7,"role":"tick","al":"center"},{"t":"0","h":464.7,"v":401.3,"role":"tick","al":"center"},{"t":"X (mm)","h":478.3,"v":421.7,"role":"tick","al":"center"},{"t":"-500","h":446.7,"v":446.7,"role":"tick","al":"center"},
{"t":"500","h":1101,"v":355.7,"role":"tick","al":"center"},{"t":"0","h":1063.3,"v":400,"role":"tick","al":"center"},{"t":"X (mm)","h":1079.3,"v":418.3,"role":"tick","al":"center"},{"t":"-500","h":1042,"v":444.7,"role":"tick","al":"center"}
]},
"data":{"name":"shapes"},
"encoding":{"x":{"field":"h","type":"quantitative","axis":null,"scale":{"domain":[0,1118],"nice":false,"zero":false}},"y":{"field":"v","type":"quantitative","axis":null,"scale":{"domain":[477,0],"nice":false,"zero":false}}},
"layer":[
{"mark":{"type":"line","interpolate":"linear","strokeJoin":"round"},
"encoding":{"detail":{"field":"id"},"order":{"field":"i","type":"quantitative"},
"fill":{"field":"part","type":"nominal","legend":null,"scale":{"domain":["grid","zaxis","axis","arrowhead","funnel","edge","box","end","red","darkred","cyan","strip","cyan2","zline","zflag","yline","yflag","xline"],"range":["transparent","transparent","transparent","transparent","#cde0ff","transparent","#dcdcfb","#c8c8ff","#ff0000","#e3001f","#1f9ddc","#4a8fc0","#12a5e8","transparent","#0000ff","transparent","#00ff00","transparent"]}},
"stroke":{"field":"part","type":"nominal","legend":null,"scale":{"domain":["grid","zaxis","axis","arrowhead","funnel","edge","box","end","red","darkred","cyan","strip","cyan2","zline","zflag","yline","yflag","xline"],"range":["#e6e6e6","#8a8a8a","#666666","#595959","#1414f5","#1414f5","#0000ff","#0000ff","#ff0000","#e3001f","#e01030","#4a8fc0","#12a5e8","#0000ff","#0000ff","#00ff00","#00ff00","#ff2020"]}},
"strokeWidth":{"field":"part","type":"nominal","legend":null,"scale":{"type":"ordinal","domain":["grid","zaxis","axis","arrowhead","funnel","edge","box","end","red","darkred","cyan","strip","cyan2","zline","zflag","yline","yflag","xline"],"range":[1,1.8,1,1.8,1.4,1.1,1.8,1.6,0.5,0.5,0.8,0.5,0.5,1.6,1,1.8,1,1.3]}}}},
{"data":{"name":"curves"},"mark":{"type":"line","interpolate":"cardinal","color":"#595959","strokeWidth":1.9},"encoding":{"detail":{"field":"id"},"order":{"field":"i","type":"quantitative"}}},
{"data":{"name":"origins"},"mark":{"type":"point","filled":true,"color":"#0a2ad0","size":22,"opacity":1},"encoding":{}},
{"data":{"name":"labels"},"transform":[{"filter":"datum.al==='left'"}],"mark":{"type":"text","align":"left","baseline":"middle","font":"Liberation Sans"},
"encoding":{"text":{"field":"t"},"color":{"field":"role","type":"nominal","legend":null,"scale":{"domain":["truth","track","iso","note","panel","ztitle","ylab","tick"],"range":["#0000ff","#ff0000","#111111","#666666","#111111","#404040","#404040","#404040"]}},"size":{"field":"role","type":"nominal","legend":null,"scale":{"type":"ordinal","domain":["truth","track","iso","note","panel","ztitle","ylab","tick"],"range":[19,19,12.5,17,28,12.8,12.8,12.8]}}}},
{"data":{"name":"labels"},"transform":[{"filter":"datum.al==='right'"}],"mark":{"type":"text","align":"right","baseline":"middle","font":"Liberation Sans","fontSize":12.8,"color":"#404040"},"encoding":{"text":{"field":"t"}}},
{"data":{"name":"labels"},"transform":[{"filter":"datum.al==='center'"}],"mark":{"type":"text","align":"center","baseline":"middle","font":"Liberation Sans"},
"encoding":{"text":{"field":"t"},"color":{"field":"role","type":"nominal","legend":null,"scale":{"domain":["truth","track","iso","note","panel","ztitle","ylab","tick"],"range":["#0000ff","#ff0000","#111111","#666666","#111111","#404040","#404040","#404040"]}},"size":{"field":"role","type":"nominal","legend":null,"scale":{"type":"ordinal","domain":["truth","track","iso","note","panel","ztitle","ylab","tick"],"range":[19,19,12.5,17,28,12.8,12.8,12.8]}},"angle":{"field":"role","type":"nominal","legend":null,"scale":{"type":"ordinal","domain":["truth","track","iso","note","panel","ztitle","ylab","tick"],"range":[0,0,0,0,0,270,4,0]}}}}
]}
